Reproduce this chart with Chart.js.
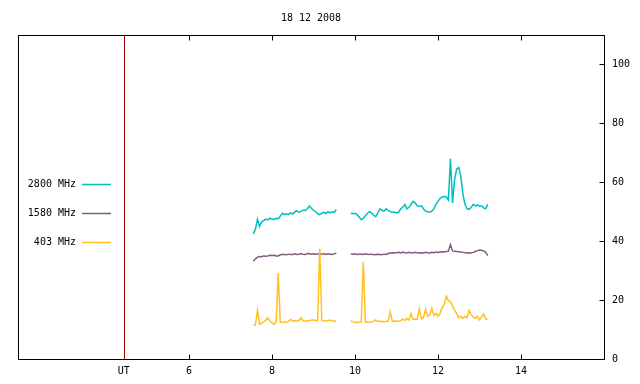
<!DOCTYPE html>
<html>
<head>
<meta charset="utf-8">
<script src="https://cdn.jsdelivr.net/npm/chart.js@4.4.0/dist/chart.umd.min.js"></script>
<style>
  html, body { margin: 0; padding: 0; background: #fff; }
  #wrap { width: 640px; height: 384px; }
</style>
</head>
<body>
<div id="wrap"><canvas id="radioChart" width="640" height="384"></canvas></div>
<script>
// ========================================
// DATA - 18 12 2008 radio flux
// ========================================

const chartTitle = '18 12 2008';
const seriesLabels = ['2800 MHz', '1580 MHz', '403 MHz'];
const seriesColors = ['#00bfbf', '#7f5f7f', '#ffc020'];

const xTickValues = [6, 8, 10, 12, 14];
const yTickValues = [0, 20, 40, 60, 80, 100];
const utMarker = 4.43;

// UT hours (9.72 = data gap)
const utHours = [
    7.55, 7.60, 7.65, 7.70, 7.75, 7.80, 7.85, 7.90, 7.95, 8.00,
    8.05, 8.10, 8.15, 8.20, 8.25, 8.30, 8.35, 8.40, 8.45, 8.50,
    8.55, 8.60, 8.65, 8.70, 8.75, 8.80, 8.85, 8.90, 8.95, 9.00,
    9.05, 9.10, 9.15, 9.20, 9.25, 9.30, 9.35, 9.40, 9.45, 9.50,
    9.55,
    9.72,
    9.90, 9.95, 10.00, 10.05, 10.10, 10.15, 10.20, 10.25, 10.30, 10.35,
    10.40, 10.45, 10.50, 10.55, 10.60, 10.65, 10.70, 10.75, 10.80, 10.85,
    10.90, 10.95, 11.00, 11.05, 11.10, 11.15, 11.20, 11.25, 11.30, 11.35,
    11.40, 11.45, 11.50, 11.55, 11.60, 11.65, 11.70, 11.75, 11.80, 11.85,
    11.90, 11.95, 12.00, 12.05, 12.10, 12.15, 12.20, 12.25, 12.30, 12.35,
    12.40, 12.45, 12.50, 12.55, 12.60, 12.65, 12.70, 12.75, 12.80, 12.85,
    12.90, 12.95, 13.00, 13.05, 13.10, 13.15, 13.20
];

const flux2800 = [
    42.5, 44.0, 47.5, 45.0, 46.5, 47.0, 47.5, 47.2, 47.8, 47.5,
    47.3, 47.8, 47.6, 48.5, 49.5, 49.0, 49.3, 49.0, 49.6, 49.2,
    50.0, 50.3, 49.8, 50.2, 50.5, 50.4, 51.0, 52.0, 51.2, 50.5,
    50.0, 49.3, 49.0, 49.5, 49.8, 49.4, 50.0, 49.6, 50.0, 49.8,
    50.8,
    null,
    49.5, 49.3, 49.5, 49.0, 48.2, 47.3, 47.8, 48.6, 49.5, 50.0,
    49.5, 48.8, 48.3, 49.5, 51.0, 50.5, 50.2, 51.0, 50.5, 50.0,
    49.8, 49.9, 49.6, 49.8, 51.0, 51.5, 52.5, 51.0, 51.5, 52.5,
    53.5, 53.0, 52.0, 51.8, 52.0, 51.0, 50.2, 50.0, 49.8, 50.2,
    51.0, 52.5, 53.5, 54.5, 55.0, 55.2, 55.0, 54.0, 68.0, 53.0,
    61.0, 64.5, 65.0, 62.0, 56.0, 52.5, 51.0, 50.8, 51.5, 52.5,
    52.0, 52.3, 51.8, 52.0, 51.3, 51.0, 52.5
];

const flux1580 = [
    33.2, 34.0, 34.6, 34.8, 34.7, 35.0, 34.9, 35.0, 35.2, 35.1,
    35.2, 35.0, 35.0, 35.4, 35.5, 35.5, 35.4, 35.6, 35.5, 35.5,
    35.7, 35.5, 35.6, 35.8, 35.6, 35.5, 35.7, 35.8, 35.6, 35.7,
    35.6, 35.6, 35.8, 35.6, 35.7, 35.5, 35.7, 35.6, 35.5, 35.7,
    35.9,
    null,
    35.7, 35.6, 35.7, 35.5, 35.6, 35.6, 35.5, 35.7, 35.6, 35.5,
    35.6, 35.4, 35.5, 35.6, 35.5, 35.4, 35.6, 35.5, 35.8, 36.0,
    36.1, 36.0, 36.1, 36.2, 36.0, 36.3, 36.1, 36.0, 36.2, 36.1,
    36.0, 36.2, 36.1, 36.0, 36.1, 36.0, 36.2, 36.1, 36.0, 36.2,
    36.1, 36.3, 36.2, 36.3, 36.4, 36.3, 36.5, 36.6, 38.8, 36.7,
    36.6, 36.5, 36.4, 36.3, 36.2, 36.1, 36.0, 36.1, 36.0, 36.2,
    36.5, 36.8, 37.0, 36.9, 36.7, 36.2, 35.1
];

const flux403 = [
    11.4, 11.6, 16.5, 11.8, 12.2, 12.6, 13.2, 14.0, 12.8, 12.3,
    11.8, 12.6, 29.2, 12.5, 12.4, 12.6, 12.4, 12.8, 13.4, 12.9,
    13.0, 12.9, 13.1, 14.0, 13.0, 12.9, 13.0, 13.0, 13.2, 13.3,
    13.1, 13.0, 37.5, 13.1, 13.0, 12.9, 13.0, 13.2, 13.0, 12.9,
    12.7,
    null,
    12.9, 12.6, 12.5, 12.3, 12.5, 12.6, 33.0, 12.5, 12.6, 12.4,
    12.6, 12.8, 13.3, 12.8, 12.7, 12.8, 12.6, 12.8, 12.8, 16.0,
    12.8, 12.9, 12.8, 12.9, 13.0, 13.6, 13.0, 13.8, 13.2, 15.5,
    13.4, 13.5, 13.5, 17.0, 13.6, 14.0, 16.8, 14.5, 15.0, 17.2,
    14.8, 15.5, 14.5, 15.5, 17.5, 18.5, 21.3, 19.8, 19.5, 18.0,
    16.5, 15.5, 14.0, 14.5, 13.8, 14.5, 14.0, 16.5, 15.0, 14.2,
    13.8, 14.5, 13.3, 14.2, 15.3, 13.6, 13.4
];

// ========================================
// HELPERS
// ========================================

function toPoints(values) {
    return utHours.map((t, i) => ({ x: t, y: values[i] }));
}

// frame, inward ticks, UT marker and inner legend (gnuplot look)
const gnuplotFrame = {
    id: 'gnuplotFrame',
    beforeDatasetsDraw(chart) {
        const ctx = chart.ctx;
        const area = chart.chartArea;
        const ux = Math.round(chart.scales.x.getPixelForValue(utMarker)) + 0.5;
        ctx.save();
        ctx.strokeStyle = '#a00000';
        ctx.lineWidth = 1;
        ctx.beginPath();
        ctx.moveTo(ux, area.top);
        ctx.lineTo(ux, area.bottom);
        ctx.stroke();
        ctx.restore();
    },
    afterDraw(chart) {
        const ctx = chart.ctx;
        const a = chart.chartArea;
        const L = Math.round(a.left) + 0.5, R = Math.round(a.right) + 0.5;
        const T = Math.round(a.top) + 0.5, B = Math.round(a.bottom) + 0.5;
        ctx.save();
        ctx.strokeStyle = '#000';
        ctx.lineWidth = 1;
        ctx.strokeRect(L, T, R - L, B - T);

        ctx.beginPath();
        xTickValues.forEach(v => {
            const px = Math.round(chart.scales.x.getPixelForValue(v)) + 0.5;
            ctx.moveTo(px, B); ctx.lineTo(px, B - 5);
            ctx.moveTo(px, T); ctx.lineTo(px, T + 5);
        });
        yTickValues.forEach(v => {
            if (v === 0) return;
            const py = Math.round(chart.scales.y.getPixelForValue(v)) + 0.5;
            ctx.moveTo(R, py); ctx.lineTo(R - 5, py);
        });
        ctx.stroke();

        // legend inside plot
        ctx.font = '10px "DejaVu Sans Mono"';
        ctx.textAlign = 'right';
        ctx.textBaseline = 'middle';
        const legendY = [184, 213, 242];
        chart.data.datasets.forEach((ds, i) => {
            const y = legendY[i];
            ctx.fillStyle = '#000';
            ctx.fillText(ds.label, 76, y);
            ctx.strokeStyle = ds.borderColor;
            ctx.lineWidth = 1.5;
            ctx.beginPath();
            ctx.moveTo(82, y + 0.5);
            ctx.lineTo(111, y + 0.5);
            ctx.stroke();
        });
        ctx.restore();
    }
};

// ========================================
// CHART
// ========================================

Chart.defaults.font.family = '"DejaVu Sans Mono", monospace';
Chart.defaults.font.size = 10;
Chart.defaults.color = '#000';

const datasetValues = [flux2800, flux1580, flux403];

new Chart(document.getElementById('radioChart'), {
    type: 'line',
    data: {
        datasets: seriesLabels.map((label, i) => ({
            label: label,
            data: toPoints(datasetValues[i]),
            borderColor: seriesColors[i],
            borderWidth: 1.5,
            pointRadius: 0,
            tension: 0,
            spanGaps: false,
            fill: false,
            order: 2 - i
        }))
    },
    options: {
        responsive: false,
        animation: false,
        layout: { padding: { left: 18, right: 0, top: 0, bottom: 0 } },
        plugins: {
            legend: { display: false },
            tooltip: { enabled: false },
            title: {
                display: true,
                text: chartTitle,
                fullSize: false,
                font: { size: 10, weight: 'normal' },
                padding: { top: 12, bottom: 11 }
            }
        },
        scales: {
            x: {
                type: 'linear',
                min: 1.88,
                max: 16,
                grid: { display: false, drawTicks: false },
                border: { display: false },
                afterBuildTicks(scale) {
                    scale.ticks = [{ value: utMarker }].concat(xTickValues.map(v => ({ value: v })));
                },
                ticks: {
                    padding: 6,
                    maxRotation: 0,
                    autoSkip: false,
                    callback: v => (v === utMarker ? 'UT' : String(v))
                },
                afterFit(scale) { scale.height = 25; }
            },
            y: {
                position: 'right',
                min: 0,
                max: 110,
                grid: { display: false, drawTicks: false },
                border: { display: false },
                afterBuildTicks(scale) {
                    scale.ticks = yTickValues.map(v => ({ value: v }));
                },
                ticks: { padding: 8, autoSkip: false },
                afterFit(scale) { scale.width = 36; }
            }
        }
    },
    plugins: [gnuplotFrame]
});
</script>
</body>
</html>
